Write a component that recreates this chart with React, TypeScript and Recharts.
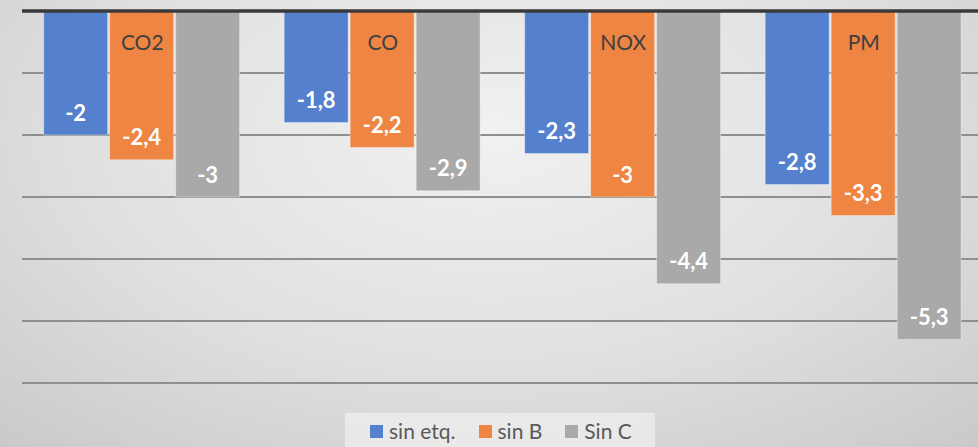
import React from 'react';
import { BarChart, Bar, XAxis, YAxis, CartesianGrid, Legend, LabelList } from 'recharts';

const categories = ['CO2', 'CO', 'NOX', 'PM'];
const sinEtq = [-2, -1.8, -2.3, -2.8];
const sinB = [-2.4, -2.2, -3, -3.3];
const sinC = [-3, -2.9, -4.4, -5.3];
const yTicks = [-6, -5, -4, -3, -2, -1, 0];
const seriesNames = ['sin etq.', 'sin B', 'Sin C'];
const seriesColors = ['#5580cd', '#ee8542', '#a9a9a9'];

const data = categories.map((name, i) => ({
  name,
  a: sinEtq[i],
  b: sinB[i],
  c: sinC[i],
}));

const FONT = 'Lato, Carlito, "Open Sans", sans-serif';

const fmt = (v: number) => String(v).replace('.', ',');

const renderValueLabel = (props: any) => {
  const { x, y, width, height, value } = props;
  const bottom = Math.max(Number(y), Number(y) + Number(height));
  return (
    <text
      x={Number(x) + Number(width) / 2}
      y={bottom - 23}
      fill="#ffffff"
      fontFamily={FONT}
      fontWeight={700}
      fontSize={22}
      textAnchor="middle"
      dominantBaseline="central"
    >
      {fmt(value)}
    </text>
  );
};

const CategoryTick = (props: any) => {
  const { x, payload } = props;
  return (
    <text
      x={x}
      y={41}
      fill="#404040"
      fontFamily={FONT}
      fontSize={21}
      textAnchor="middle"
      dominantBaseline="central"
    >
      {payload.value}
    </text>
  );
};

const renderLegend = () => {
  return (
    <div
      style={{
        display: 'flex',
        justifyContent: 'flex-start',
        alignItems: 'center',
        gap: 23,
        paddingLeft: 25,
        boxSizing: 'border-box',
        background: 'rgba(238,238,238,0.8)',
        height: 36,
        fontFamily: FONT,
        fontSize: 21,
        lineHeight: '26px',
        color: '#595959',
      }}
    >
      {seriesNames.map((n, i) => (
        <div key={n} style={{ display: 'flex', alignItems: 'center' }}>
          <span
            style={{
              display: 'inline-block',
              width: 13,
              height: 13,
              background: seriesColors[i],
              marginRight: 6,
            }}
          />
          <span>{n}</span>
        </div>
      ))}
    </div>
  );
};

export default function App() {
  return (
    <div
      style={{
        position: 'absolute',
        left: 0,
        top: 0,
        width: 978,
        height: 447,
        overflow: 'hidden',
        background:
          'radial-gradient(ellipse 75% 95% at 50% 30%, #f1f1f1 0%, #e0e0e0 55%, #c9c9c9 100%)',
      }}
    >
      <BarChart
        width={1000}
        height={447}
        data={data}
        margin={{ top: 10, right: 16, left: 22, bottom: 64 }}
        barCategoryGap="9%"
        barGap={2}
      >
        <CartesianGrid vertical={false} stroke="#8f8f8f" strokeWidth={2} />
        <YAxis hide domain={[-6, 0]} ticks={yTicks} />
        <Legend
          verticalAlign="middle"
          align="center"
          content={renderLegend}
          wrapperStyle={{ position: 'absolute', left: 345, top: 413, width: 310 }}
        />
        <Bar dataKey="a" name={seriesNames[0]} fill={seriesColors[0]} stroke="#ffffff" strokeOpacity={0.4} isAnimationActive={false}>
          <LabelList dataKey="a" content={renderValueLabel} />
        </Bar>
        <Bar dataKey="b" name={seriesNames[1]} fill={seriesColors[1]} stroke="#ffffff" strokeOpacity={0.4} isAnimationActive={false}>
          <LabelList dataKey="b" content={renderValueLabel} />
        </Bar>
        <Bar dataKey="c" name={seriesNames[2]} fill={seriesColors[2]} stroke="#ffffff" strokeOpacity={0.4} isAnimationActive={false}>
          <LabelList dataKey="c" content={renderValueLabel} />
        </Bar>
        <XAxis
          dataKey="name"
          orientation="top"
          height={1}
          axisLine={{ stroke: '#3a3a3a', strokeWidth: 3.5 }}
          tickLine={false}
          tick={<CategoryTick />}
          interval={0}
        />
      </BarChart>
    </div>
  );
}
